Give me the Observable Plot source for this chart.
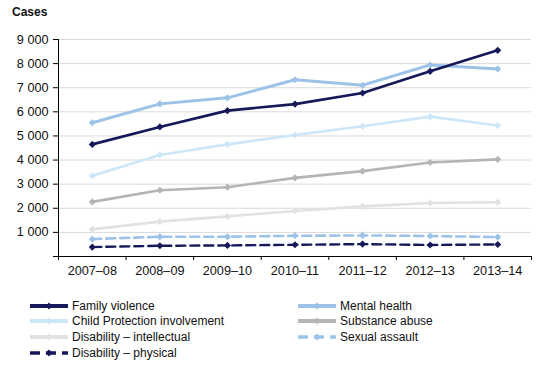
<!DOCTYPE html>
<html>
<head>
<meta charset="utf-8">
<script src="https://cdn.jsdelivr.net/npm/d3@7"></script>
<script src="https://cdn.jsdelivr.net/npm/@observablehq/plot@0.6"></script>
<style>
  body { margin: 0; background: #fff; font-family: "Liberation Sans", Arial, sans-serif; }
  #wrap { position: relative; width: 544px; height: 371px; overflow: hidden; }
  #title { position: absolute; left: 12px; top: 5px; font-size: 12px; font-weight: bold; color: #111; }
  #chart { position: absolute; left: 0; top: 0; }
  .leg { position: absolute; font-size: 12px; color: #111; display: flex; align-items: center; height: 15.6px; white-space: nowrap; }
  .leg svg { margin-right: 4px; }
</style>
</head>
<body>
<div id="wrap">
  <div id="chart"></div>
  <div id="title">Cases</div>
  <div id="legend"></div>
</div>
<script>
const categories = ["2007–08", "2008–09", "2009–10", "2010–11", "2011–12", "2012–13", "2013–14"];
const familyViolence = [4650, 5375, 6050, 6320, 6780, 7680, 8550];
const mentalHealth = [5550, 6330, 6580, 7330, 7100, 7945, 7780];
const childProtection = [3350, 4210, 4650, 5040, 5400, 5800, 5430];
const substanceAbuse = [2265, 2750, 2875, 3260, 3540, 3900, 4030];
const disabilityIntellectual = [1125, 1445, 1665, 1890, 2080, 2220, 2250];
const sexualAssault = [720, 820, 820, 860, 875, 850, 805];
const disabilityPhysical = [390, 445, 460, 485, 515, 478, 500];
const yTicks = [0, 1000, 2000, 3000, 4000, 5000, 6000, 7000, 8000, 9000];

const seriesNames = ["Family violence", "Mental health", "Child Protection involvement", "Substance abuse", "Disability – intellectual", "Sexual assault", "Disability – physical"];
const seriesValues = [familyViolence, mentalHealth, childProtection, substanceAbuse, disabilityIntellectual, sexualAssault, disabilityPhysical];
const seriesColors = ["#15195a", "#9cc3e7", "#cbe7f8", "#b5b5b5", "#e2e2e2", "#9cc3e7", "#15195a"];
const seriesDash = [null, null, null, null, null, "9,5", "9,5"];
const seriesWidth = [2.6, 3, 2.6, 2.6, 2.6, 2.6, 2.4];

const fmt = d => d === 0 ? "" : d3.format(",")(d).replace(/,/g, " ");

const lineMarks = [];
for (let s = seriesNames.length - 1; s >= 0; s--) {
  const data = seriesValues[s].map((v, i) => ({x: i + 0.5, y: v}));
  lineMarks.push(Plot.line(data, {x: "x", y: "y", stroke: seriesColors[s], strokeWidth: seriesWidth[s], strokeDasharray: seriesDash[s]}));
  lineMarks.push(Plot.dot(data, {x: "x", y: "y", symbol: "diamond2", r: 3.2, fill: seriesColors[s], stroke: "none"}));
}

const chart = Plot.plot({
  width: 544,
  height: 280,
  marginLeft: 58,
  marginRight: 13,
  marginTop: 39,
  marginBottom: 24,
  x: {domain: [0, categories.length], axis: null, label: null},
  y: {domain: [0, 9000], axis: null, label: null},
  style: {fontFamily: "'Liberation Sans', Arial, sans-serif", fontSize: "12.67px", color: "#111", background: "transparent"},
  marks: [
    Plot.gridY(yTicks.filter(v => v > 0), {stroke: "#d9d9d9", strokeOpacity: 1, strokeWidth: 1}),
    Plot.axisY({ticks: yTicks, label: null, tickSize: 5, tickPadding: 5, tickFormat: fmt, fontSize: 12.67, stroke: "#000"}),
    Plot.axisX({ticks: categories.map((_, i) => i + 0.5), label: null, tickSize: 0, tickPadding: 9, tickFormat: d => categories[Math.round(d - 0.5)], fontSize: 12.67}),
    Plot.axisX({ticks: d3.range(0, categories.length + 1), label: null, tickSize: 4, tickFormat: () => "", stroke: "#000"}),
    Plot.ruleY([0], {stroke: "#000"}),
    Plot.ruleX([0], {stroke: "#000"}),
    ...lineMarks
  ]
});
document.getElementById("chart").appendChild(chart);

// Legend
const legend = document.getElementById("legend");
const legendCols = [30, 298];
const legendTop = 298;
const rowH = 15.6;
seriesNames.forEach((name, s) => {
  const col = s % 2, row = Math.floor(s / 2);
  const div = document.createElement("div");
  div.className = "leg";
  div.style.left = legendCols[col] + "px";
  div.style.top = (legendTop + row * rowH) + "px";
  const ns = "http://www.w3.org/2000/svg";
  const svg = document.createElementNS(ns, "svg");
  svg.setAttribute("width", 38);
  svg.setAttribute("height", 10);
  const line = document.createElementNS(ns, "line");
  line.setAttribute("x1", 0); line.setAttribute("x2", 38);
  line.setAttribute("y1", 5); line.setAttribute("y2", 5);
  line.setAttribute("stroke", seriesColors[s]);
  line.setAttribute("stroke-width", seriesDash[s] ? 3.5 : 4);
  if (seriesDash[s]) line.setAttribute("stroke-dasharray", "10,6");
  svg.appendChild(line);
  const dia = document.createElementNS(ns, "path");
  dia.setAttribute("d", "M19,1.5L22.5,5L19,8.5L15.5,5Z");
  dia.setAttribute("fill", seriesColors[s]);
  svg.appendChild(dia);
  div.appendChild(svg);
  const span = document.createElement("span");
  span.textContent = name;
  div.appendChild(span);
  legend.appendChild(div);
});
</script>
</body>
</html>
